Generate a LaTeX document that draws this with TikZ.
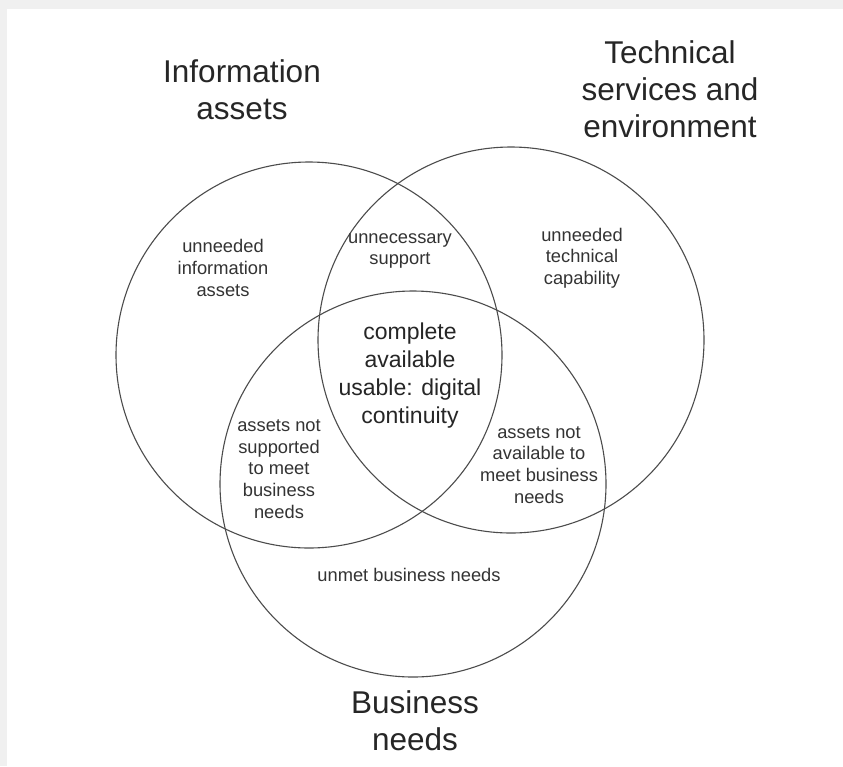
\documentclass[tikz,border=0pt]{standalone}
\usepackage{fontspec}
\setmainfont{Liberation Sans}
\usetikzlibrary{positioning}

\begin{document}
\begin{tikzpicture}[
    x=1pt, y=-1pt,
    setcircle/.style={circle, draw=black!70, line width=1.1pt, minimum size=386pt, inner sep=0pt},
    title/.style={align=center, text=black!85, font=\fontsize{31.5}{37}\selectfont},
    core/.style={align=center, text=black!85, font=\fontsize{23}{28}\selectfont},
    region/.style={align=center, text=black!80, font=\fontsize{18.3}{21.7}\selectfont}
]

% page frame
\useasboundingbox (0,0) rectangle (843,766);
\fill[black!6] (0,0) rectangle (843,766);
\fill[white] (7,9) rectangle (843,766);

% 1. the three sets
\node[setcircle] (info) at (309,355) {};
\node[setcircle] (tech) at (511,340) {};
\node[setcircle] (biz)  at (413,484) {};

% 2. set titles
\node[title] (info_t) at (242,90)  {Information\\assets};
\node[title] (tech_t) at (670,89)  {Technical\\services and\\environment};
\node[title] (biz_t)  at (415,721) {Business\\needs};

% 3. regions
\node[region] (info_only) at (223,268) {unneeded\\information\\assets};
\node[region] (tech_only) at (582,258) {unneeded\\technical\\capability};
\node[region] (info_tech) at (400,251) {unnecessary\\support};
\node[region] (info_biz)  at (279,469) {assets not\\supported\\to meet\\business\\needs};
\node[region] (tech_biz)  at (539,465) {assets not\\available to\\meet business\\needs};
\node[region] (biz_only)  at (409,575) {unmet business needs};

% 4. centre
\node[core] (all) at (410,376) {complete\\available\\usable: digital\\continuity};

\end{tikzpicture}
\end{document}
